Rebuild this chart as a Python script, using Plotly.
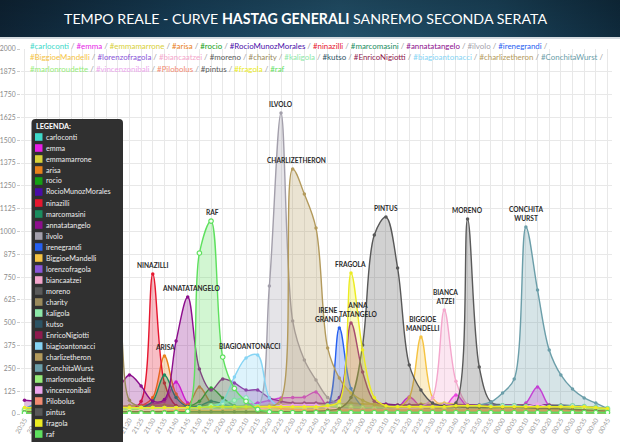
import base64
import plotly.graph_objects as go

TIMES = ["20:35", "20:40", "20:45", "20:50", "20:55", "21:00", "21:05", "21:10", "21:15", "21:20",
         "21:25", "21:30", "21:35", "21:40", "21:45", "21:50", "21:55", "22:00", "22:05", "22:10",
         "22:15", "22:20", "22:25", "22:30", "22:35", "22:40", "22:45", "22:50", "22:55", "23:00",
         "23:05", "23:10", "23:15", "23:20", "23:25", "23:30", "23:35", "23:40", "23:45", "23:50",
         "23:55", "00:00", "00:05", "00:10", "00:15", "00:20", "00:25", "00:30", "00:35", "00:40",
         "00:45"]

Y_TICKS = [0, 125, 250, 375, 500, 625, 750, 875, 1000, 1125, 1250, 1375, 1500, 1625, 1750, 1875, 2000]

carloconti = [30, 60, 110, 160, 150, 110, 80, 60, 45, 35,
              30, 25, 25, 22, 20, 20, 18, 18, 18, 18,
              18, 18, 18, 18, 18, 18, 18, 18, 18, 18,
              18, 18, 18, 18, 18, 18, 18, 18, 18, 18,
              18, 18, 18, 20, 20, 18, 18, 18, 15, 15,
              12]
emma = [25, 25, 28, 30, 30, 30, 32, 35, 40, 45,
        50, 55, 70, 175, 60, 35, 25, 25, 35, 50,
        60, 75, 88, 90, 93, 120, 40, 25, 25, 25,
        25, 28, 35, 93, 40, 28, 35, 104, 40, 25,
        25, 28, 35, 60, 148, 45, 25, 25, 22, 20,
        18]
emmamarrone = [30, 35, 40, 40, 45, 45, 40, 40, 40, 45,
               45, 45, 50, 45, 45, 45, 50, 50, 45, 45,
               45, 50, 50, 55, 55, 50, 50, 55, 60, 55,
               55, 50, 50, 50, 55, 55, 60, 55, 50, 45,
               45, 45, 50, 50, 50, 50, 45, 45, 40, 35,
               30]
arisa = [15, 15, 15, 15, 15, 15, 15, 15, 18, 25,
         45, 90, 318, 110, 50, 148, 60, 25, 20, 20,
         20, 20, 20, 20, 20, 20, 20, 20, 20, 20,
         20, 20, 20, 20, 20, 20, 20, 20, 20, 20,
         20, 20, 20, 20, 20, 20, 20, 20, 18, 18,
         15]
rocio = [15, 15, 15, 15, 15, 15, 15, 15, 15, 15,
         18, 20, 25, 30, 40, 70, 142, 88, 45, 25,
         22, 22, 22, 22, 22, 22, 22, 22, 22, 22,
         22, 22, 22, 22, 22, 22, 22, 22, 22, 22,
         22, 22, 22, 22, 22, 22, 22, 20, 18, 18,
         15]
RocioMunozMorales = [10, 10, 10, 10, 10, 10, 10, 10, 10, 10,
                     12, 12, 12, 12, 12, 15, 15, 15, 15, 15,
                     20, 25, 25, 28, 30, 30, 30, 28, 25, 25,
                     25, 25, 25, 25, 25, 25, 25, 25, 25, 25,
                     25, 28, 30, 35, 30, 25, 25, 22, 20, 18,
                     15]
ninazilli = [10, 10, 10, 10, 10, 10, 10, 10, 12, 20,
             70, 767, 170, 45, 25, 20, 15, 15, 12, 12,
             12, 12, 12, 12, 12, 12, 12, 12, 12, 12,
             12, 12, 12, 12, 12, 12, 12, 12, 12, 12,
             12, 12, 12, 12, 12, 12, 12, 12, 12, 12,
             10]
marcomasini = [15, 15, 15, 15, 15, 15, 15, 15, 18, 25,
               35, 70, 214, 90, 40, 45, 70, 55, 35, 25,
               25, 25, 25, 25, 25, 25, 25, 25, 25, 25,
               25, 25, 25, 25, 25, 25, 25, 25, 25, 25,
               25, 25, 25, 25, 25, 25, 25, 22, 20, 20,
               18]
annatatangelo = [75, 70, 65, 65, 70, 80, 90, 110, 140, 214,
                 153, 71, 80, 400, 641, 247, 131, 192, 170, 131,
                 131, 88, 70, 60, 60, 60, 60, 90, 499, 230,
                 70, 55, 50, 50, 50, 50, 50, 50, 50, 50,
                 50, 50, 50, 50, 50, 50, 45, 45, 40, 35,
                 30]
ilvolo = [12, 12, 12, 12, 12, 12, 12, 12, 12, 12,
          12, 12, 12, 12, 12, 12, 12, 12, 12, 18,
          35, 701, 1649, 510, 296, 186, 90, 50, 30, 22,
          20, 20, 20, 20, 20, 20, 20, 20, 20, 20,
          20, 20, 20, 20, 20, 20, 20, 18, 15, 15,
          12]
irenegrandi = [10, 10, 10, 10, 10, 10, 10, 10, 10, 10,
               10, 10, 10, 10, 10, 10, 10, 10, 10, 10,
               10, 10, 12, 12, 15, 20, 40, 471, 140, 40,
               20, 18, 18, 18, 18, 18, 18, 18, 18, 18,
               18, 18, 18, 18, 18, 18, 18, 15, 15, 12,
               10]
BiggioeMandelli = [10, 10, 10, 10, 10, 10, 10, 10, 10, 10,
                   10, 10, 10, 10, 10, 12, 12, 12, 12, 12,
                   12, 12, 12, 12, 12, 15, 15, 15, 18, 20,
                   22, 25, 35, 90, 422, 90, 40, 25, 20, 20,
                   20, 20, 20, 20, 20, 20, 20, 18, 15, 15,
                   12]
lorenzofragola = [10, 10, 10, 10, 10, 10, 10, 10, 10, 12,
                  15, 18, 20, 20, 20, 20, 20, 20, 20, 20,
                  20, 22, 25, 28, 30, 30, 30, 28, 25, 25,
                  25, 25, 25, 25, 25, 25, 25, 25, 25, 25,
                  25, 25, 25, 25, 25, 25, 22, 20, 18, 15,
                  12]
biancaatzei = [10, 10, 10, 10, 10, 10, 10, 10, 10, 10,
               10, 10, 10, 10, 10, 10, 10, 10, 10, 10,
               10, 10, 10, 10, 10, 10, 10, 10, 12, 12,
               12, 12, 15, 20, 40, 90, 570, 180, 50, 22,
               18, 18, 18, 18, 18, 18, 18, 15, 15, 12,
               10]
moreno = [12, 12, 12, 12, 12, 12, 12, 12, 12, 12,
          12, 12, 12, 12, 12, 12, 12, 12, 12, 12,
          12, 12, 12, 12, 12, 12, 12, 12, 12, 12,
          12, 15, 18, 20, 25, 30, 40, 60, 1068, 258,
          66, 50, 45, 45, 45, 45, 50, 45, 40, 35,
          25]
charity = [20, 35, 60, 100, 160, 230, 300, 450, 560, 75,
           40, 28, 25, 25, 25, 25, 25, 25, 25, 25,
           25, 25, 25, 25, 25, 25, 25, 25, 25, 25,
           25, 25, 25, 25, 25, 25, 25, 25, 25, 25,
           25, 25, 25, 25, 25, 25, 25, 22, 20, 20,
           18]
kaligola = [25, 25, 25, 25, 25, 25, 25, 25, 25, 28,
            30, 30, 30, 30, 30, 35, 45, 60, 75, 88,
            40, 30, 30, 30, 35, 40, 45, 45, 40, 35,
            35, 35, 35, 35, 35, 35, 35, 35, 35, 35,
            40, 45, 45, 40, 35, 35, 40, 45, 40, 35,
            30]
kutso = [12, 12, 12, 12, 12, 12, 12, 12, 12, 12,
         12, 15, 18, 20, 20, 20, 20, 20, 20, 20,
         22, 22, 22, 22, 22, 22, 22, 22, 22, 22,
         22, 22, 22, 22, 22, 22, 22, 22, 22, 22,
         28, 32, 32, 32, 30, 28, 25, 22, 20, 18,
         15]
EnricoNigiotti = [12, 12, 12, 12, 12, 12, 12, 12, 12, 12,
                  12, 12, 15, 18, 20, 20, 20, 20, 20, 20,
                  20, 20, 22, 22, 22, 25, 25, 25, 22, 22,
                  22, 22, 22, 25, 28, 30, 30, 28, 22, 22,
                  22, 22, 22, 22, 22, 22, 22, 20, 18, 18,
                  15]
biagioantonacci = [10, 10, 10, 10, 10, 10, 10, 10, 10, 10,
                   10, 10, 10, 12, 15, 20, 30, 70, 203, 307,
                   323, 88, 35, 22, 20, 20, 20, 20, 20, 20,
                   20, 20, 20, 20, 20, 20, 20, 20, 20, 20,
                   20, 20, 20, 20, 20, 20, 20, 18, 15, 15,
                   12]
charlizetheron = [12, 12, 12, 12, 12, 12, 12, 12, 12, 12,
                  12, 12, 12, 12, 12, 12, 12, 12, 15, 20,
                  25, 35, 80, 1342, 1205, 1019, 362, 197, 115, 75,
                  50, 40, 35, 35, 35, 35, 35, 35, 35, 35,
                  35, 35, 35, 35, 35, 35, 35, 30, 28, 25,
                  20]
ConchitaWurst = [12, 12, 12, 12, 12, 12, 12, 12, 12, 12,
                 12, 12, 12, 12, 12, 12, 12, 12, 12, 12,
                 12, 12, 12, 12, 12, 12, 12, 12, 12, 12,
                 12, 15, 15, 18, 20, 22, 25, 30, 40, 50,
                 66, 115, 192, 1025, 679, 351, 214, 137, 88, 60,
                 30]
marlonroudette = [18, 18, 18, 18, 18, 18, 18, 18, 18, 18,
                  20, 20, 20, 20, 20, 22, 22, 22, 25, 25,
                  25, 25, 22, 22, 22, 25, 25, 25, 22, 22,
                  22, 22, 25, 25, 25, 25, 25, 25, 22, 22,
                  25, 30, 30, 25, 25, 25, 25, 30, 30, 25,
                  20]
vincenzonibali = [12, 12, 12, 12, 12, 12, 12, 12, 12, 15,
                  20, 22, 25, 30, 35, 30, 25, 25, 25, 25,
                  28, 35, 45, 50, 50, 50, 35, 28, 25, 25,
                  25, 25, 28, 30, 35, 40, 50, 40, 28, 25,
                  25, 25, 30, 40, 55, 35, 25, 22, 20, 18,
                  15]
Pilobolus = [12, 12, 12, 12, 12, 12, 12, 12, 12, 12,
             12, 12, 15, 20, 20, 20, 20, 20, 25, 30,
             40, 40, 30, 25, 22, 22, 22, 22, 22, 22,
             22, 22, 22, 22, 22, 22, 22, 22, 22, 22,
             22, 22, 22, 22, 22, 22, 22, 20, 18, 18,
             15]
pintus = [12, 12, 12, 12, 12, 12, 12, 12, 12, 12,
          12, 12, 12, 12, 12, 12, 12, 12, 12, 12,
          12, 12, 12, 12, 12, 15, 20, 30, 90, 378,
          981, 1079, 800, 268, 131, 60, 45, 40, 35, 35,
          35, 35, 35, 35, 30, 30, 28, 25, 22, 20,
          15]
fragola = [35, 35, 35, 35, 35, 35, 35, 35, 35, 35,
           35, 35, 35, 35, 35, 35, 40, 40, 40, 40,
           40, 40, 40, 40, 40, 40, 45, 70, 773, 351,
           90, 45, 40, 40, 40, 40, 40, 45, 45, 45,
           40, 40, 40, 40, 40, 40, 40, 40, 40, 35,
           30]
raf = [5, 5, 5, 5, 5, 5, 5, 5, 5, 5,
       5, 5, 5, 8, 15, 882, 1057, 312, 140, 70,
       25, 12, 8, 8, 8, 8, 8, 8, 8, 8,
       8, 8, 8, 8, 8, 8, 8, 8, 8, 8,
       8, 8, 8, 8, 8, 8, 8, 8, 8, 8,
       8]

SERIES_NAMES = ["carloconti", "emma", "emmamarrone", "arisa", "rocio", "RocioMunozMorales",
                "ninazilli", "marcomasini", "annatatangelo", "ilvolo", "irenegrandi",
                "BiggioeMandelli", "lorenzofragola", "biancaatzei", "moreno", "charity",
                "kaligola", "kutso", "EnricoNigiotti", "biagioantonacci", "charlizetheron",
                "ConchitaWurst", "marlonroudette", "vincenzonibali", "Pilobolus", "pintus",
                "fragola", "raf"]
SERIES_VALUES = [carloconti, emma, emmamarrone, arisa, rocio, RocioMunozMorales,
                 ninazilli, marcomasini, annatatangelo, ilvolo, irenegrandi,
                 BiggioeMandelli, lorenzofragola, biancaatzei, moreno, charity,
                 kaligola, kutso, EnricoNigiotti, biagioantonacci, charlizetheron,
                 ConchitaWurst, marlonroudette, vincenzonibali, Pilobolus, pintus,
                 fragola, raf]
SERIES_COLORS = ["#3ed9c9", "#e61ee6", "#d8d038", "#e8801a", "#14a014", "#4a0ca8",
                 "#e6162e", "#1a8c5e", "#8c0e8c", "#a39fab", "#2660f0",
                 "#f5c342", "#8a55d8", "#f4a6cc", "#5a5a5a", "#9a8a5c",
                 "#8ee8a8", "#2c5364", "#8e1a4e", "#86d4f4", "#b39a5c",
                 "#6b9ea9", "#96ec78", "#eca6ec", "#f28a72", "#585858",
                 "#ecec22", "#5ee05e"]

# (series, point index, label text, x shift in px)
PEAK_LABELS = [("ninazilli", 11, "NINAZILLI", 0),
               ("arisa", 12, "ARISA", 1),
               ("annatatangelo", 14, "ANNATATANGELO", 3),
               ("raf", 16, "RAF", 1),
               ("biagioantonacci", 20, "BIAGIOANTONACCI", -8),
               ("ilvolo", 22, "ILVOLO", 0),
               ("charlizetheron", 23, "CHARLIZETHERON", 4),
               ("irenegrandi", 27, "IRENE<br>GRANDI", -11),
               ("fragola", 28, "FRAGOLA", 0),
               ("annatatangelo", 28, "ANNA<br>TATANGELO", 8),
               ("pintus", 31, "PINTUS", 0),
               ("BiggioeMandelli", 34, "BIGGIOE<br>MANDELLI", 2),
               ("biancaatzei", 36, "BIANCA<br>ATZEI", 1),
               ("moreno", 38, "MORENO", 0),
               ("ConchitaWurst", 43, "CONCHITA<br>WURST", 1)]

FIG_W, FIG_H = 620, 442
ML, MR, MT, MB = 21, 8, 49, 28
PW = FIG_W - ML - MR
PH = FIG_H - MT - MB
STEP = 11.66
X0 = -(24.5 - ML) / STEP
X1 = X0 + PW / STEP


def px(x):
    return (x - ML) / PW


def py(y):
    return (FIG_H - MB - y) / PH


def rgba(hexc, a):
    h = hexc.lstrip("#")
    return "rgba(%d,%d,%d,%.2f)" % (int(h[0:2], 16), int(h[2:4], 16), int(h[4:6], 16), a)


FONT = "Lato, 'Open Sans', sans-serif"
fig = go.Figure()
for name, vals, col in zip(SERIES_NAMES, SERIES_VALUES, SERIES_COLORS):
    green_ring = name in ("raf", "marlonroudette", "kaligola")
    fig.add_trace(go.Scatter(
        x=TIMES, y=vals, name=name, mode="lines+markers",
        line=dict(color=col, width=1.4, shape="spline", smoothing=1),
        fill="tozeroy", fillcolor=rgba(col, 0.28),
        marker=dict(size=4.5 if green_ring else 3.5,
                    color="#f4fff0" if green_ring else col,
                    line=dict(color=col, width=1.2 if green_ring else 0)),
        showlegend=False, hoverinfo="skip"))

shapes = []
annotations = []

# banner
shapes.append(dict(type="rect", xref="paper", yref="paper", x0=px(0), x1=px(FIG_W),
                   y0=py(37), y1=py(0), fillcolor="#183c54", line=dict(width=0), layer="below"))
shapes.append(dict(type="rect", xref="paper", yref="paper", x0=px(0), x1=px(FIG_W),
                   y0=py(39), y1=py(37), fillcolor="#d5dbe0", line=dict(width=0), layer="below"))
svg = ('<svg xmlns="http://www.w3.org/2000/svg" width="620" height="37" viewBox="0 0 620 37" '
       'preserveAspectRatio="none"><defs><linearGradient id="g" x1="0" y1="0" x2="1" y2="0">'
       '<stop offset="0" stop-color="#0e2334"/><stop offset="0.3" stop-color="#173e57"/>'
       '<stop offset="0.55" stop-color="#225069"/><stop offset="0.8" stop-color="#1a4259"/>'
       '<stop offset="1" stop-color="#0f2a3c"/></linearGradient>'
       '<linearGradient id="h" x1="0" y1="0" x2="0" y2="1">'
       '<stop offset="0" stop-color="#000" stop-opacity="0.15"/>'
       '<stop offset="1" stop-color="#000" stop-opacity="0"/></linearGradient></defs>'
       '<rect width="620" height="37" fill="url(#g)"/><rect width="620" height="37" fill="url(#h)"/></svg>')
src = "data:image/svg+xml;base64," + base64.b64encode(svg.encode()).decode()
images = [dict(source=src, xref="paper", yref="paper", x=px(0), y=py(0),
               sizex=FIG_W / PW, sizey=37 / PH, xanchor="left", yanchor="top",
               sizing="stretch", layer="above")]
annotations.append(dict(xref="paper", yref="paper", x=px(305), y=py(18.5), xanchor="center",
                        yanchor="middle", showarrow=False,
                        text="TEMPO REALE - CURVE <b>HASTAG GENERALI</b> SANREMO SECONDA SERATA",
                        font=dict(family=FONT, size=14.2, color="#ffffff")))

# hashtag lines
SEP = '<span style="color:#9a9a9a"> / </span>'
line_groups = [(0, 11, True), (11, 22, True), (22, 28, False)]
for k, (a, b, trail) in enumerate(line_groups):
    parts = ['<span style="color:%s">#%s</span>' % (SERIES_COLORS[i], SERIES_NAMES[i]) for i in range(a, b)]
    txt = SEP.join(parts) + (SEP if trail else "")
    annotations.append(dict(xref="paper", yref="paper", x=px(28), y=py(45.5 + 11.6 * k),
                            xanchor="left", yanchor="middle", showarrow=False, text=txt,
                            font=dict(family=FONT, size=7.9)))

# custom legend box
lx0, lx1, ly0, ly1, r = 31.5, 123, 119, 450, 4
path = ("M {a},{b} L {a},{c} Q {a},{d} {e},{d} L {f},{d} Q {g},{d} {g},{c} L {g},{b} Z").format(
    a=px(lx0), b=py(ly1), c=py(ly0 + r), d=py(ly0), e=px(lx0 + r), f=px(lx1 - r), g=px(lx1))
shapes.append(dict(type="path", xref="paper", yref="paper", path=path,
                   fillcolor="#303030", line=dict(width=0), layer="above"))
annotations.append(dict(xref="paper", yref="paper", x=px(34), y=py(126.5), xanchor="left",
                        yanchor="middle", showarrow=False, text="<b>LEGENDA:</b>",
                        font=dict(family=FONT, size=7.2, color="#ffffff")))
for k, (name, col) in enumerate(zip(SERIES_NAMES, SERIES_COLORS)):
    yc = 137 + 11.0 * k
    shapes.append(dict(type="rect", xref="paper", yref="paper", x0=px(35), x1=px(42.5),
                       y0=py(yc + 3.8), y1=py(yc - 3.8), fillcolor=col,
                       line=dict(width=0), layer="above"))
    annotations.append(dict(xref="paper", yref="paper", x=px(44), y=py(yc), xanchor="left",
                            yanchor="middle", showarrow=False, text=name,
                            font=dict(family=FONT, size=7.2, color="#eeeeee")))

# peak labels
lookup = dict(zip(SERIES_NAMES, SERIES_VALUES))
for name, idx, text, xs in PEAK_LABELS:
    annotations.append(dict(xref="x", yref="y", x=TIMES[idx], y=lookup[name][idx],
                            xanchor="center", yanchor="bottom", yshift=3, xshift=xs,
                            showarrow=False, text="<b>%s</b>" % text,
                            font=dict(family=FONT, size=6.6, color="#2a2a2a")))

fig.update_layout(
    width=FIG_W, height=FIG_H, margin=dict(l=ML, r=MR, t=MT, b=MB, autoexpand=False),
    paper_bgcolor="#ffffff", plot_bgcolor="#ffffff",
    xaxis=dict(type="category", range=[X0, X1], tickmode="array", tickvals=TIMES, ticktext=TIMES,
               tickangle=-60, tickfont=dict(family=FONT, size=6.5, color="#999999"),
               showgrid=True, gridcolor="#e8e8e8", gridwidth=1, zeroline=False, showline=False,
               ticks="", automargin=False),
    yaxis=dict(range=[0, 2000], tickmode="array", tickvals=Y_TICKS,
               tickfont=dict(family=FONT, size=6.8, color="#8a8a8a"),
               showgrid=True, gridcolor="#e8e8e8", gridwidth=1, zeroline=False, showline=False,
               ticks="outside", ticklen=3, tickcolor="#cccccc", automargin=False),
    shapes=shapes, annotations=annotations, images=images, showlegend=False,
)

fig.write_html("out.html", config={"displayModeBar": False, "staticPlot": True},
               post_script="document.body.style.margin='0';document.body.style.padding='0';"
                           "document.body.style.overflow='hidden';")
